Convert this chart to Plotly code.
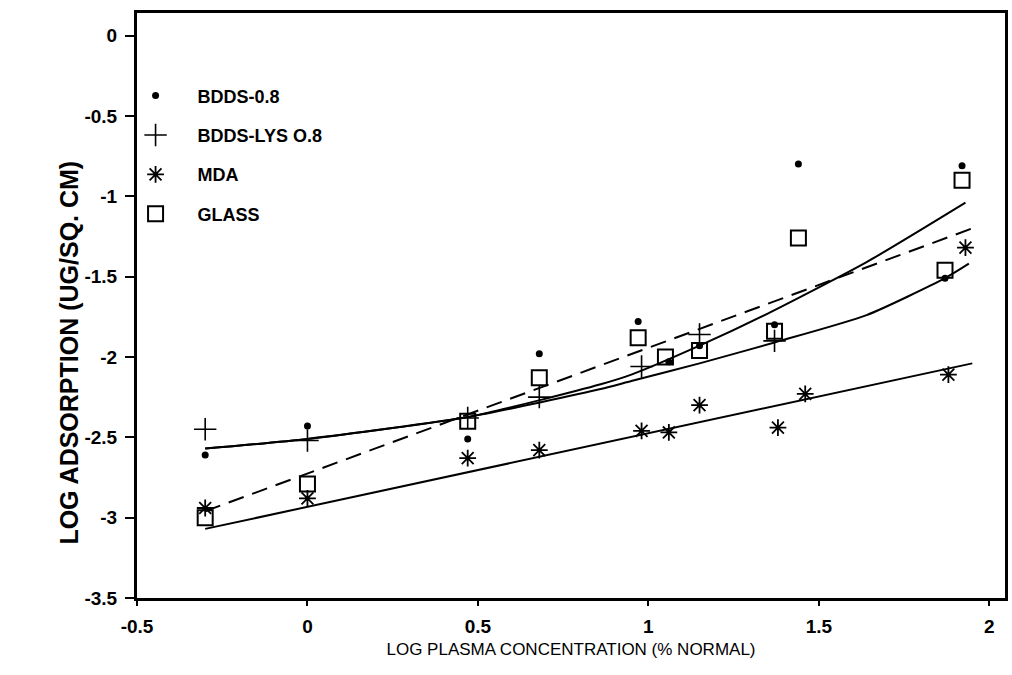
import plotly.graph_objects as go

# ---- data ----
bdds_x = [-0.3, 0.0, 0.47, 0.68, 0.97, 1.06, 1.15, 1.37, 1.44, 1.87, 1.92]
bdds_y = [-2.61, -2.43, -2.51, -1.98, -1.78, -2.03, -1.93, -1.80, -0.80, -1.51, -0.81]

lys_x = [-0.3, 0.0, 0.47, 0.68, 0.98, 1.15, 1.37]
lys_y = [-2.45, -2.52, -2.38, -2.25, -2.06, -1.86, -1.90]

mda_x = [-0.3, 0.0, 0.47, 0.68, 0.98, 1.06, 1.15, 1.38, 1.46, 1.88, 1.93]
mda_y = [-2.94, -2.88, -2.63, -2.58, -2.46, -2.47, -2.30, -2.44, -2.23, -2.11, -1.32]

glass_x = [-0.3, 0.0, 0.47, 0.68, 0.97, 1.05, 1.15, 1.37, 1.44, 1.87, 1.92]
glass_y = [-3.00, -2.79, -2.40, -2.13, -1.88, -2.00, -1.96, -1.84, -1.26, -1.46, -0.90]

# fitted curves
fit_upper_x = [-0.3, 0.0, 0.48, 0.86, 0.95, 1.15, 1.35, 1.64, 1.93]
fit_upper_y = [-2.57, -2.51, -2.37, -2.17, -2.11, -1.93, -1.73, -1.41, -1.04]
fit_lower_x = [-0.3, 0.0, 0.48, 0.86, 0.95, 1.15, 1.37, 1.64, 1.87, 1.94]
fit_lower_y = [-2.57, -2.51, -2.37, -2.20, -2.15, -2.04, -1.91, -1.74, -1.51, -1.42]
fit_mda_x = [-0.3, 1.95]
fit_mda_y = [-3.07, -2.04]
fit_glass_x = [-0.3, 1.95]
fit_glass_y = [-2.96, -1.20]

x_ticks = [-0.5, 0, 0.5, 1, 1.5, 2]
x_tick_text = ["-0.5", "0", "0.5", "1", "1.5", "2"]
y_ticks = [0, -0.5, -1, -1.5, -2, -2.5, -3, -3.5]
y_tick_text = ["0", "-0.5", "-1", "-1.5", "-2", "-2.5", "-3", "-3.5"]

FONT = "Liberation Sans, Arial, sans-serif"
fig = go.Figure()

spline = dict(color="black", width=2, shape="spline", smoothing=0.6)
fig.add_trace(go.Scatter(x=fit_upper_x, y=fit_upper_y, mode="lines", line=spline, showlegend=False, hoverinfo="skip"))
fig.add_trace(go.Scatter(x=fit_lower_x, y=fit_lower_y, mode="lines", line=spline, showlegend=False, hoverinfo="skip"))
fig.add_trace(go.Scatter(x=fit_mda_x, y=fit_mda_y, mode="lines", line=dict(color="black", width=2), showlegend=False, hoverinfo="skip"))
fig.add_trace(go.Scatter(x=fit_glass_x, y=fit_glass_y, mode="lines", line=dict(color="black", width=2, dash="16px,9px"), showlegend=False, hoverinfo="skip"))

fig.add_trace(go.Scatter(x=bdds_x, y=bdds_y, mode="markers", name="BDDS-0.8", legendgroup="a",
                         marker=dict(symbol="circle", size=7, color="black")))
fig.add_trace(go.Scatter(x=lys_x, y=lys_y, mode="markers", name="BDDS-LYS O.8", legendgroup="b",
                         marker=dict(symbol="cross-thin", size=16, color="black", line=dict(color="black", width=1.6))))
fig.add_trace(go.Scatter(x=mda_x, y=mda_y, mode="markers", name="MDA", legendgroup="c",
                         marker=dict(symbol="asterisk", size=14, color="black", line=dict(color="black", width=1.8))))
fig.add_trace(go.Scatter(x=glass_x, y=glass_y, mode="markers", name="GLASS", legendgroup="d",
                         marker=dict(symbol="square-open", size=15, color="black", line=dict(color="black", width=2))))

fig.update_layout(
    width=1012, height=675,
    margin=dict(l=137, r=4, t=13, b=77),
    paper_bgcolor="white", plot_bgcolor="white",
    font=dict(family=FONT, color="black", size=17),
    legend=dict(x=-0.027, y=0.89, xanchor="left", yanchor="top", bgcolor="rgba(0,0,0,0)",
                font=dict(size=18, family=FONT, color="black", weight="bold"), tracegroupgap=13,
                itemsizing="trace", itemwidth=74),
    xaxis=dict(range=[-0.5, 2.046], tickmode="array", tickvals=x_ticks, ticktext=x_tick_text,
               showgrid=False, zeroline=False, showline=True, linecolor="black", linewidth=3, mirror=True,
               ticks="outside", ticklen=5, tickwidth=1.5, tickcolor="black", ticklabelstandoff=4,
               tickfont=dict(size=19, family=FONT, weight="bold"),
               title=dict(text="LOG PLASMA CONCENTRATION (% NORMAL)", font=dict(size=17, family=FONT), standoff=8)),
    yaxis=dict(range=[-3.5, 0.14], tickmode="array", tickvals=y_ticks, ticktext=y_tick_text,
               showgrid=False, zeroline=False, showline=True, linecolor="black", linewidth=3, mirror=True,
               ticks="outside", ticklen=9, tickwidth=2, tickcolor="black", ticklabelstandoff=4,
               tickfont=dict(size=19, family=FONT, weight="bold")),
    annotations=[dict(text="<b>LOG ADSORPTION (UG/SQ. CM)</b>", textangle=-90, xref="paper", yref="paper",
                      x=-0.078, y=0.42, xanchor="center", yanchor="middle", showarrow=False,
                      font=dict(size=25, family=FONT, color="black"))],
)

fig.write_html("out.html")
